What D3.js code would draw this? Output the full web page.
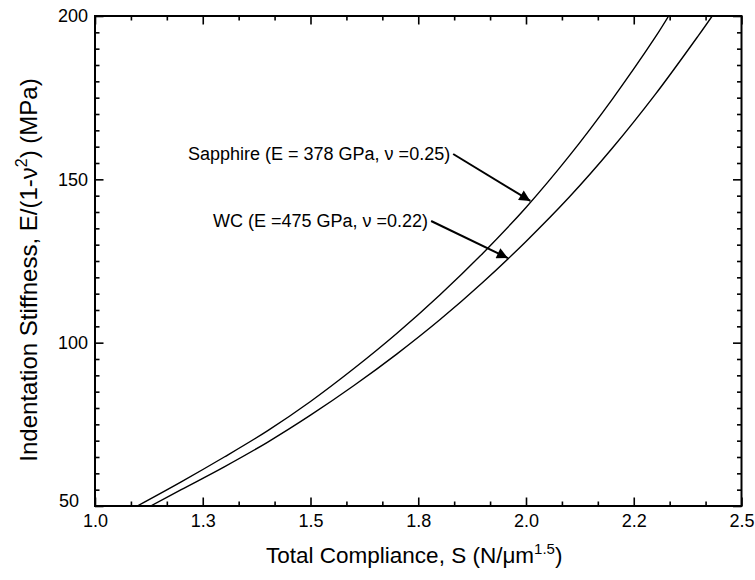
<!DOCTYPE html>
<html>
<head>
<meta charset="utf-8">
<script src="https://cdn.jsdelivr.net/npm/d3@7"></script>
<style>
  html, body { margin: 0; padding: 0; background: #fff; }
  svg { display: block; }
  text { font-family: "Liberation Sans", Arial, Helvetica, sans-serif; fill: #000; }
</style>
</head>
<body>
<svg id="chart" width="755" height="580"></svg>
<script>
// Reduced indentation stiffness vs. total compliance for two indenter materials
const sapphireCompliance = [1.098, 1.20, 1.30, 1.40, 1.50, 1.60, 1.70, 1.80, 1.90, 2.00, 2.10, 2.20, 2.30, 2.331];
const sapphireStiffness  = [50, 57.4, 65, 73, 82, 92, 102.8, 114.6, 127.4, 141.4, 157.1, 174.5, 193.5, 200];

const wcCompliance = [1.129, 1.20, 1.30, 1.40, 1.50, 1.60, 1.70, 1.80, 1.90, 2.00, 2.10, 2.20, 2.30, 2.40, 2.432];
const wcStiffness  = [50, 55, 62, 69.5, 77.8, 86.8, 96.5, 107, 118.5, 131, 144.5, 159.5, 176, 194, 200];

const xMajorTicks = [1.0, 1.25, 1.5, 1.75, 2.0, 2.25, 2.5];
const xTickLabels = ["1.0", "1.3", "1.5", "1.8", "2.0", "2.2", "2.5"];
const yMajorTicks = [50, 100, 150, 200];
const yTickLabels = ["50", "100", "150", "200"];

// Annotation anchors, in data units: arrow tip on each curve
const annotationLabels = ["Sapphire (E = 378 GPa, \u03bd =0.25)", "WC (E =475 GPa, \u03bd =0.22)"];
const annotationTipS = [2.010, 1.958];
const annotationTipE = [143.4, 125.9];

const svg = d3.select("#chart");
const L = 95, R = 741.5, T = 16, B = 506;

const x = d3.scaleLinear().domain([1.0, 2.5]).range([L, R]);
const y = d3.scaleLinear().domain([50, 200]).range([B, T]);

const xMinor = d3.range(0, 19).map(i => 1.0 + i / 12).filter(v => !xMajorTicks.some(m => Math.abs(m - v) < 1e-6));
const yMinor = d3.range(50, 201, 5).filter(v => v % 50 !== 0);

const defs = svg.append("defs");
defs.append("clipPath").attr("id", "plotclip")
  .append("rect").attr("x", L).attr("y", T).attr("width", R - L).attr("height", B - T);

// curves
const line = d3.line()
  .x(d => x(d[0])).y(d => y(d[1]))
  .curve(d3.curveCatmullRom.alpha(0.5));

const series = [
  d3.zip(sapphireCompliance, sapphireStiffness),
  d3.zip(wcCompliance, wcStiffness)
];
svg.append("g").attr("clip-path", "url(#plotclip)")
  .selectAll("path").data(series).join("path")
  .attr("d", line)
  .attr("fill", "none")
  .attr("stroke", "#000")
  .attr("stroke-width", 1.4);

// axes with inward ticks on all four sides
function styleAxis(g) {
  g.select(".domain").remove();
  g.selectAll(".tick line").attr("stroke", "#000").attr("stroke-width", 1.6);
}
const majorLen = 8.5, minorLen = 4.5;

const gBottom = svg.append("g").attr("transform", `translate(0,${B})`)
  .call(d3.axisBottom(x).tickValues(xMajorTicks).tickSizeInner(-majorLen).tickSizeOuter(0)
        .tickFormat((d, i) => xTickLabels[i]));
styleAxis(gBottom);
gBottom.selectAll(".tick text").attr("font-size", 18).attr("y", 8).attr("dy", "0.71em");

svg.append("g").attr("transform", `translate(0,${B})`)
  .call(d3.axisBottom(x).tickValues(xMinor).tickSizeInner(-minorLen).tickSizeOuter(0).tickFormat(""))
  .call(styleAxis);

svg.append("g").attr("transform", `translate(0,${T})`)
  .call(d3.axisTop(x).tickValues(xMajorTicks).tickSizeInner(-majorLen).tickSizeOuter(0).tickFormat(""))
  .call(styleAxis);
svg.append("g").attr("transform", `translate(0,${T})`)
  .call(d3.axisTop(x).tickValues(xMinor).tickSizeInner(-minorLen).tickSizeOuter(0).tickFormat(""))
  .call(styleAxis);

const gLeft = svg.append("g").attr("transform", `translate(${L},0)`)
  .call(d3.axisLeft(y).tickValues(yMajorTicks).tickSizeInner(-majorLen).tickSizeOuter(0)
        .tickFormat((d, i) => yTickLabels[i]));
styleAxis(gLeft);
gLeft.selectAll(".tick text").attr("font-size", 18).attr("x", -7);
// bottom-left corner label sits a little left and up, clear of the x labels
gLeft.selectAll(".tick").filter(d => d === 50).select("text").attr("x", -16).attr("dy", "0.05em");

svg.append("g").attr("transform", `translate(${L},0)`)
  .call(d3.axisLeft(y).tickValues(yMinor).tickSizeInner(-minorLen).tickSizeOuter(0).tickFormat(""))
  .call(styleAxis);
svg.append("g").attr("transform", `translate(${R},0)`)
  .call(d3.axisRight(y).tickValues(yMajorTicks).tickSizeInner(-majorLen).tickSizeOuter(0).tickFormat(""))
  .call(styleAxis);
svg.append("g").attr("transform", `translate(${R},0)`)
  .call(d3.axisRight(y).tickValues(yMinor).tickSizeInner(-minorLen).tickSizeOuter(0).tickFormat(""))
  .call(styleAxis);

// frame
svg.append("rect").attr("x", L).attr("y", T).attr("width", R - L).attr("height", B - T)
  .attr("fill", "none").attr("stroke", "#000").attr("stroke-width", 2);

// axis titles
const xt = svg.append("text").attr("x", (L + R) / 2 - 4).attr("y", 563)
  .attr("text-anchor", "middle").attr("font-size", 22.5);
xt.append("tspan").text("Total Compliance, S (N/\u03bcm");
xt.append("tspan").attr("font-size", 15).attr("dy", -9).text("1.5");
xt.append("tspan").attr("dy", 9).text(")");

const yt = svg.append("text")
  .attr("transform", `translate(37,${(T + B) / 2 + 9}) rotate(-90)`)
  .attr("text-anchor", "middle").attr("font-size", 24);
yt.append("tspan").text("Indentation Stiffness, E/(1-\u03bd");
yt.append("tspan").attr("font-size", 16).attr("dy", -10).text("2");
yt.append("tspan").attr("dy", 10).text(") (MPa)");

// annotations with arrows
defs.append("marker").attr("id", "arrowhead")
  .attr("viewBox", "0 0 10 10").attr("refX", 10).attr("refY", 5)
  .attr("markerUnits", "userSpaceOnUse").attr("markerWidth", 19).attr("markerHeight", 11)
  .attr("orient", "auto")
  .append("path").attr("d", "M0,0 L10,5 L0,10 Z").attr("fill", "#000");

const labelPos = [[188, 160], [213, 227]];
const ann = svg.append("g");
annotationLabels.forEach((txt, i) => {
  const t = ann.append("text").attr("x", labelPos[i][0]).attr("y", labelPos[i][1])
    .attr("font-size", 18).text(txt);
  const w = t.node().getComputedTextLength();
  const sx = labelPos[i][0] + w + 3, sy = labelPos[i][1] - 6;
  ann.append("line")
    .attr("x1", sx).attr("y1", sy)
    .attr("x2", x(annotationTipS[i])).attr("y2", y(annotationTipE[i]))
    .attr("stroke", "#000").attr("stroke-width", 2)
    .attr("marker-end", "url(#arrowhead)");
});
</script>
</body>
</html>
